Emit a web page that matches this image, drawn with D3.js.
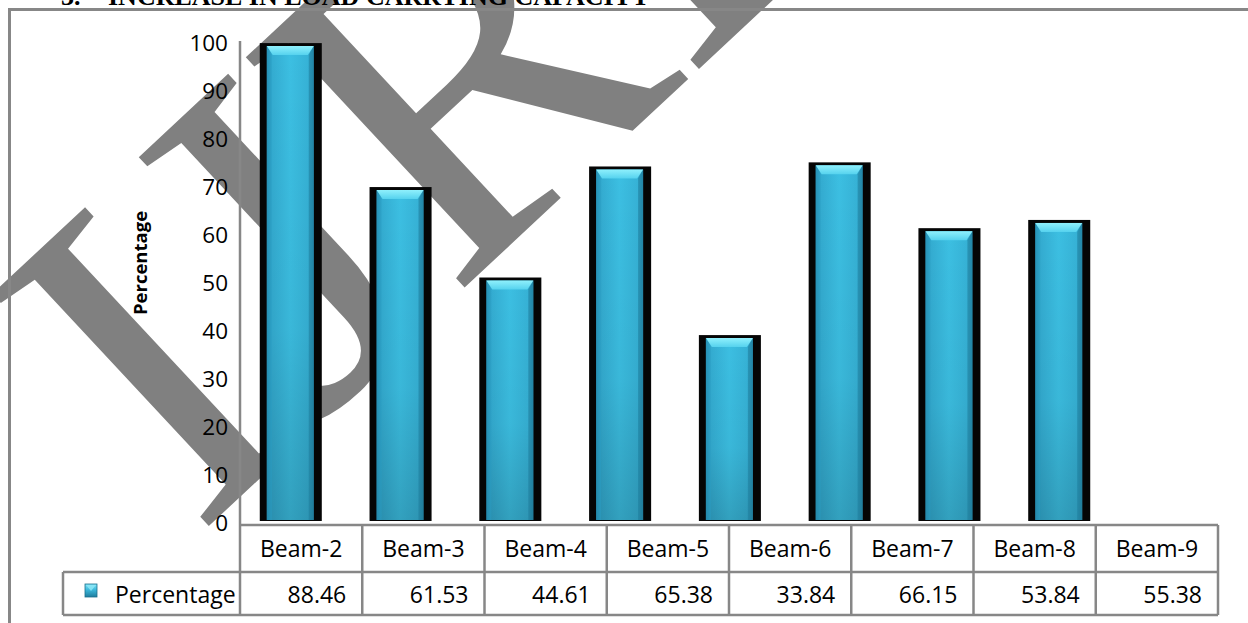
<!DOCTYPE html>
<html>
<head>
<meta charset="utf-8">
<script src="https://cdn.jsdelivr.net/npm/d3@7"></script>
<style>
  html, body { margin: 0; padding: 0; background: #ffffff; overflow: hidden; }
  svg { display: block; }
</style>
</head>
<body>
<svg id="chart" width="1248" height="623"></svg>
<script>
// ---- data ----
const categories = ["Beam-2", "Beam-3", "Beam-4", "Beam-5", "Beam-6", "Beam-7", "Beam-8", "Beam-9"];
const percentage = [88.46, 61.53, 44.61, 65.38, 33.84, 66.15, 53.84, 55.38];
const yTickValues = [0, 10, 20, 30, 40, 50, 60, 70, 80, 90, 100];
const seriesName = "Percentage";
const axisTitle = "Percentage";
const headingNumber = "3.";
const headingText = "INCREASE IN LOAD CARRYING CAPACITY";
const watermarkText = "IJRET";

const rows = categories.map((c, i) => ({ category: c, value: percentage[i] }));

// ---- layout ----
const W = 1248, H = 623;
const svg = d3.select("#chart");
const gridColor = "#878787";
const font = "'Open Sans', 'Noto Sans', sans-serif";

// bar value scale and the printed axis scale
const y = d3.scaleLinear().domain([0, 100]).range([516, -18.6]);
const yAxisScale = d3.scaleLinear().domain([0, 100]).range([522, 42]);
const barBase = y(0) + 5;

// bar positions and data-table columns
const x = d3.scaleBand().domain(categories).range([240, 1110]).paddingInner(0.435).paddingOuter(0.18);
const col = d3.scaleBand().domain(categories).range([240, 1218]);

const tableTop = 525, rowMid = 572, tableBottom = 615, legendLeft = 63;

// ---- gradients ----
const defs = svg.append("defs");
const bodyGrad = defs.append("linearGradient").attr("id", "barBody").attr("x1", "0").attr("x2", "1").attr("y1", "0").attr("y2", "0");
[["0%", "#2587a8"], ["10%", "#33abd0"], ["50%", "#3cbfe2"], ["88%", "#36b2d6"], ["100%", "#2a8fb2"]]
  .forEach(([o, c]) => bodyGrad.append("stop").attr("offset", o).attr("stop-color", c));
const shadeGrad = defs.append("linearGradient").attr("id", "barShade").attr("x1", "0").attr("x2", "0").attr("y1", "0").attr("y2", "1");
[["0%", "#000", 0], ["60%", "#000", 0.04], ["100%", "#000", 0.16]]
  .forEach(([o, c, a]) => shadeGrad.append("stop").attr("offset", o).attr("stop-color", c).attr("stop-opacity", a));
const capGrad = defs.append("linearGradient").attr("id", "barCap").attr("x1", "0").attr("x2", "0").attr("y1", "0").attr("y2", "1");
[["0%", "#8ff0fc"], ["100%", "#55d2ee"]]
  .forEach(([o, c]) => capGrad.append("stop").attr("offset", o).attr("stop-color", c));
const keyGrad = defs.append("linearGradient").attr("id", "keyFill").attr("x1", "0").attr("x2", "0").attr("y1", "0").attr("y2", "1");
[["0%", "#7fe3f6"], ["45%", "#3bb7da"], ["100%", "#1f7d9e"]]
  .forEach(([o, c]) => keyGrad.append("stop").attr("offset", o).attr("stop-color", c));

// ---- watermark (behind everything) ----
svg.append("text")
  .attr("transform", "translate(196,538) rotate(-43)")
  .attr("font-family", "'Liberation Serif', 'Times New Roman', serif")
  .attr("font-size", 485)
  .attr("fill", "#808080")
  .text(watermarkText);

// ---- heading ----
const heading = svg.append("g").attr("font-family", "'Liberation Serif', 'Times New Roman', serif")
  .attr("font-weight", "bold").attr("font-size", 26).attr("fill", "#000");
heading.append("text").attr("x", 61).attr("y", 5).text(headingNumber);
heading.append("text").attr("x", 108).attr("y", 5).text(headingText);

// ---- chart frame ----
svg.append("path")
  .attr("d", `M9.5,${H} V9.5 H${W}`)
  .attr("fill", "none").attr("stroke", gridColor).attr("stroke-width", 3);

// ---- value axis (labels only, with a plain axis line) ----
const yAxis = d3.axisLeft(yAxisScale).tickValues(yTickValues).tickSize(0).tickPadding(0);
const gy = svg.append("g").attr("transform", "translate(228,0)").call(yAxis);
gy.select(".domain").remove();
gy.selectAll("text").attr("font-family", font).attr("font-size", 22.5).attr("fill", "#000").attr("dy", "0.36em");

svg.append("line")
  .attr("x1", 240).attr("x2", 240).attr("y1", 41).attr("y2", tableBottom)
  .attr("stroke", gridColor).attr("stroke-width", 2.5);

svg.append("text")
  .attr("transform", "translate(139,263) rotate(-90)")
  .attr("text-anchor", "middle").attr("dominant-baseline", "central")
  .attr("font-family", font).attr("font-weight", "bold").attr("font-size", 18.5)
  .attr("fill", "#000").text(axisTitle);

// ---- bars ----
const bars = svg.append("g").selectAll("g.bar").data(rows).join("g").attr("class", "bar");
bars.each(function (d) {
  const g = d3.select(this);
  const bx = x(d.category), bw = x.bandwidth();
  const top = y(d.value);
  // dark frame
  g.append("rect").attr("x", bx).attr("y", top).attr("width", bw).attr("height", barBase - top).attr("fill", "#050505");
  // face
  const ix0 = bx + 7, ix1 = bx + bw - 8, it = top + 3, ib = barBase - 1;
  g.append("rect").attr("x", ix0).attr("y", it).attr("width", ix1 - ix0).attr("height", ib - it).attr("fill", "url(#barBody)");
  g.append("rect").attr("x", ix0).attr("y", it).attr("width", ix1 - ix0).attr("height", ib - it).attr("fill", "url(#barShade)");
  // bevelled sides
  g.append("polygon")
    .attr("points", `${ix0},${it} ${ix0 + 5},${it + 9} ${ix0 + 5},${ib} ${ix0},${ib}`)
    .attr("fill", "#2a9cc2").attr("opacity", 0.55);
  g.append("polygon")
    .attr("points", `${ix1},${it} ${ix1 - 5},${it + 9} ${ix1 - 5},${ib} ${ix1},${ib}`)
    .attr("fill", "#1f7f9f").attr("opacity", 0.55);
  // bevelled top
  g.append("polygon")
    .attr("points", `${ix0},${it} ${ix1},${it} ${ix1 - 6},${it + 9} ${ix0 + 6},${it + 9}`)
    .attr("fill", "url(#barCap)");
});

// ---- data table ----
const table = svg.append("g").attr("stroke", gridColor).attr("stroke-width", 2.5).attr("fill", "none");
table.append("line").attr("x1", 240).attr("x2", col.range()[1]).attr("y1", tableTop).attr("y2", tableTop);
table.append("line").attr("x1", legendLeft).attr("x2", col.range()[1]).attr("y1", rowMid).attr("y2", rowMid);
table.append("line").attr("x1", legendLeft).attr("x2", col.range()[1]).attr("y1", tableBottom).attr("y2", tableBottom);
table.append("line").attr("x1", legendLeft).attr("x2", legendLeft).attr("y1", rowMid).attr("y2", tableBottom);
categories.forEach(c => {
  const xr = col(c) + col.bandwidth();
  table.append("line").attr("x1", xr).attr("x2", xr).attr("y1", tableTop).attr("y2", tableBottom);
});

const txt = svg.append("g").attr("font-family", font).attr("font-size", 23).attr("fill", "#000");
txt.selectAll("text.head").data(rows).join("text").attr("class", "head")
  .attr("x", d => col(d.category) + col.bandwidth() / 2).attr("y", 548)
  .attr("text-anchor", "middle").attr("dominant-baseline", "central")
  .text(d => d.category);
txt.selectAll("text.val").data(rows).join("text").attr("class", "val")
  .attr("x", d => col(d.category) + col.bandwidth() - 16).attr("y", 594)
  .attr("text-anchor", "end").attr("dominant-baseline", "central")
  .text(d => d3.format(".2f")(d.value));

// legend key and series name
svg.append("rect").attr("x", 85).attr("y", 584).attr("width", 12).attr("height", 13)
  .attr("fill", "url(#keyFill)").attr("stroke", "#1d6f8c").attr("stroke-width", 0.8);
svg.append("polygon").attr("points", "86,585 96,585 91,591").attr("fill", "#8fe9f8").attr("opacity", 0.8);
txt.append("text").attr("x", 115).attr("y", 594).attr("dominant-baseline", "central").text(seriesName);
</script>
</body>
</html>
